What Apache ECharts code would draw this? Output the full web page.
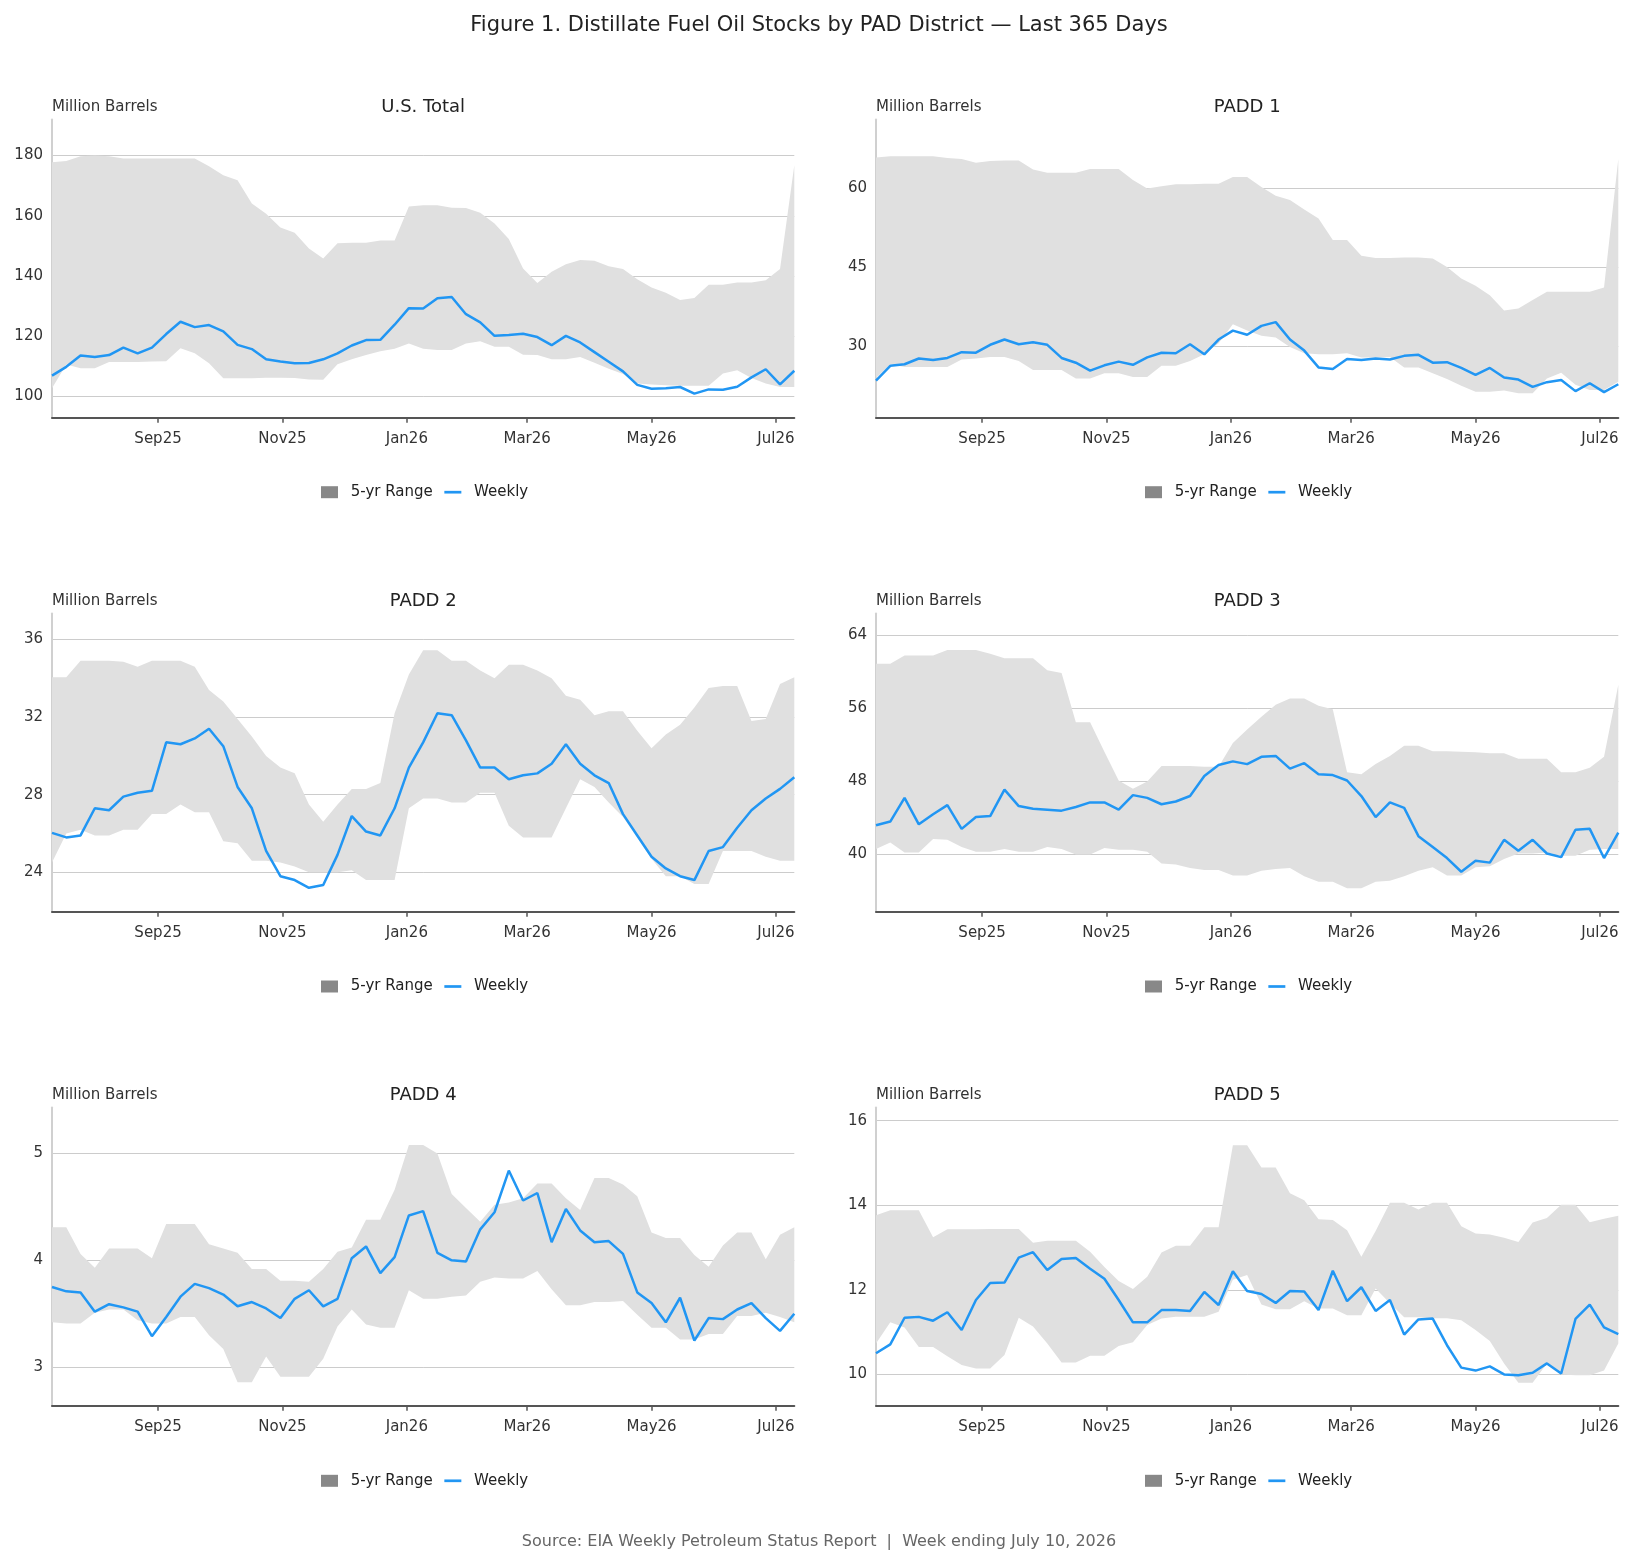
<!DOCTYPE html>
<html>
<head>
<meta charset="utf-8">
<script src="https://cdn.jsdelivr.net/npm/echarts@6/dist/echarts.min.js"></script>
<style>
html,body{margin:0;padding:0;background:#ffffff;}
#chart{width:1634px;height:1564px;}
</style>
</head>
<body>
<div id="chart"></div>
<script>
// ---------- DATA ----------
const weeks = ['2025-07-11','2025-07-18','2025-07-25','2025-08-01','2025-08-08','2025-08-15','2025-08-22','2025-08-29',
  '2025-09-05','2025-09-12','2025-09-19','2025-09-26','2025-10-03','2025-10-10','2025-10-17','2025-10-24','2025-10-31',
  '2025-11-07','2025-11-14','2025-11-21','2025-11-28','2025-12-05','2025-12-12','2025-12-19','2025-12-26',
  '2026-01-02','2026-01-09','2026-01-16','2026-01-23','2026-01-30','2026-02-06','2026-02-13','2026-02-20','2026-02-27',
  '2026-03-06','2026-03-13','2026-03-20','2026-03-27','2026-04-03','2026-04-10','2026-04-17','2026-04-24',
  '2026-05-01','2026-05-08','2026-05-15','2026-05-22','2026-05-29','2026-06-05','2026-06-12','2026-06-19','2026-06-26',
  '2026-07-03','2026-07-10'];

const xTickDates = ['2025-09-01','2025-11-01','2026-01-01','2026-03-01','2026-05-01','2026-07-01'];
const xTickLabels = ['Sep25','Nov25','Jan26','Mar26','May26','Jul26'];

const panelTitles = ['U.S. Total','PADD 1','PADD 2','PADD 3','PADD 4','PADD 5'];

// U.S. Total
const usWeekly = [106.9,109.8,113.6,113.1,113.7,116.2,114.3,116.2,120.7,124.8,123.0,123.7,121.6,117.1,115.7,112.3,111.6,111.0,111.1,112.3,114.3,116.9,118.7,118.8,123.8,129.3,129.2,132.6,133.0,127.3,124.6,120.1,120.4,120.8,119.7,117.0,120.1,117.9,114.7,111.5,108.3,103.8,102.5,102.7,103.1,100.9,102.3,102.2,103.2,106.3,109.0,104.0,108.5];
const usHigh = [177.8,178.2,179.8,180.0,179.8,179.0,179.0,179.0,179.0,179.0,179.0,176.5,173.5,171.8,164.1,160.7,156.1,154.4,149.1,145.8,150.9,151.0,151.0,151.8,151.8,163.1,163.5,163.5,162.7,162.6,161.0,157.4,152.3,142.5,137.7,141.4,143.9,145.3,145.1,143.2,142.3,138.9,136.2,134.4,132.0,132.7,137.1,137.1,137.8,137.8,138.6,142.3,176.8];
const usLow = [102.7,110.6,109.3,109.3,111.4,111.4,111.4,111.6,111.7,116.0,114.3,111.0,106.0,106.0,106.0,106.2,106.2,106.1,105.6,105.5,110.7,112.3,113.7,115.0,115.8,117.6,115.8,115.4,115.4,117.6,118.3,116.5,116.5,113.8,113.7,112.3,112.3,113.1,111.2,109.2,107.4,104.3,103.9,103.7,103.5,103.5,103.5,107.6,108.7,106.1,104.3,103.1,103.1];
const usTicks = [100,120,140,160,180];

// PADD 1
const p1Weekly = [23.5,26.3,26.6,27.7,27.4,27.8,28.9,28.8,30.3,31.3,30.4,30.8,30.3,27.8,26.9,25.4,26.4,27.1,26.5,27.9,28.8,28.7,30.4,28.5,31.3,33.0,32.2,33.9,34.6,31.3,29.2,26.0,25.7,27.6,27.4,27.7,27.5,28.2,28.4,26.9,27.0,25.9,24.6,25.9,24.1,23.7,22.3,23.2,23.6,21.5,23.0,21.3,22.8];
const p1High = [65.9,66.1,66.1,66.1,66.1,65.8,65.6,64.9,65.2,65.3,65.3,63.6,63.0,63.0,63.0,63.7,63.7,63.7,61.6,60.0,60.4,60.8,60.8,60.9,60.9,62.2,62.2,60.3,58.6,57.8,56.0,54.3,50.2,50.2,47.2,46.8,46.8,46.9,46.9,46.7,45.1,42.9,41.5,39.7,36.8,37.2,38.8,40.4,40.4,40.4,40.4,41.2,65.6];
const p1Low = [24.0,26.6,26.1,26.1,26.1,26.1,27.5,27.7,28.0,28.0,27.2,25.5,25.5,25.5,23.9,23.9,24.9,24.9,24.2,24.2,26.3,26.3,27.2,28.5,30.6,34.2,33.0,32.0,31.7,29.9,28.7,28.5,28.5,28.7,27.9,27.9,28.0,26.0,26.0,24.9,23.8,22.5,21.4,21.4,21.6,21.1,21.1,23.9,25.0,22.7,21.7,21.7,23.3];
const p1Ticks = [30,45,60];

// PADD 2
const p2Weekly = [26.03,25.8,25.9,27.3,27.2,27.9,28.1,28.2,30.7,30.6,30.9,31.4,30.5,28.4,27.3,25.1,23.8,23.6,23.2,23.35,24.9,26.9,26.1,25.9,27.3,29.4,30.7,32.2,32.1,30.8,29.4,29.4,28.8,29.0,29.1,29.6,30.6,29.6,29.0,28.6,27.0,25.9,24.8,24.2,23.8,23.6,25.1,25.3,26.3,27.2,27.8,28.3,28.9];
const p2High = [34.06,34.06,34.9,34.9,34.9,34.85,34.6,34.9,34.9,34.9,34.6,33.4,32.8,31.9,31.0,30.0,29.4,29.1,27.5,26.6,27.5,28.3,28.3,28.6,32.2,34.2,35.45,35.45,34.9,34.9,34.4,34.0,34.7,34.7,34.4,34.0,33.1,32.9,32.1,32.3,32.3,31.3,30.4,31.1,31.6,32.5,33.5,33.6,33.6,31.8,31.9,33.7,34.06];
const p2Low = [24.5,26.0,26.2,25.9,25.9,26.2,26.2,27.0,27.0,27.5,27.1,27.1,25.6,25.5,24.6,24.6,24.5,24.3,24.0,24.0,24.0,24.1,23.6,23.6,23.6,27.3,27.8,27.8,27.6,27.6,28.1,28.1,26.4,25.8,25.8,25.8,27.3,28.8,28.4,27.6,26.85,25.8,24.7,23.8,23.8,23.4,23.4,25.1,25.1,25.1,24.8,24.6,24.6];
const p2Ticks = [24,28,32,36];

// PADD 3
const p3Weekly = [43.2,43.6,46.2,43.3,44.4,45.4,42.8,44.1,44.2,47.1,45.3,45.0,44.9,44.8,45.2,45.7,45.7,44.9,46.5,46.2,45.5,45.8,46.4,48.6,49.8,50.2,49.9,50.7,50.8,49.4,50.0,48.8,48.7,48.1,46.4,44.1,45.7,45.1,42.0,40.8,39.6,38.1,39.3,39.1,41.6,40.4,41.6,40.1,39.7,42.7,42.8,39.6,42.4];
const p3High = [60.9,60.9,61.8,61.8,61.8,62.4,62.4,62.4,62.0,61.5,61.5,61.5,60.2,59.9,54.5,54.5,51.25,48.1,47.2,48.0,49.7,49.7,49.7,49.6,49.6,52.2,53.7,55.1,56.4,57.1,57.1,56.3,55.9,49.0,48.8,49.9,50.8,51.9,51.9,51.3,51.3,51.25,51.2,51.1,51.1,50.5,50.5,50.5,49.0,49.0,49.5,50.7,58.6];
const p3Low = [40.6,41.3,40.2,40.2,41.7,41.6,40.8,40.3,40.3,40.6,40.3,40.3,40.8,40.6,40.0,40.0,40.7,40.5,40.5,40.3,39.0,38.9,38.5,38.3,38.3,37.7,37.7,38.2,38.4,38.5,37.6,37.0,37.0,36.3,36.3,37.0,37.1,37.6,38.2,38.6,37.7,37.7,38.6,38.7,39.5,40.1,40.1,40.2,39.85,39.85,40.5,40.6,40.6];
const p3Ticks = [40,48,56,64];

// PADD 4
const p4Weekly = [3.75,3.71,3.70,3.52,3.59,3.56,3.52,3.29,3.47,3.66,3.78,3.74,3.68,3.57,3.61,3.55,3.46,3.64,3.72,3.57,3.64,4.02,4.13,3.88,4.03,4.42,4.46,4.07,4.00,3.99,4.29,4.45,4.84,4.56,4.63,4.17,4.48,4.28,4.17,4.18,4.06,3.70,3.60,3.42,3.65,3.25,3.46,3.45,3.54,3.60,3.46,3.34,3.50];
const p4High = [4.31,4.31,4.06,3.93,4.11,4.11,4.11,4.02,4.34,4.34,4.34,4.15,4.11,4.07,3.92,3.92,3.81,3.81,3.80,3.92,4.08,4.12,4.38,4.38,4.66,5.08,5.08,5.00,4.62,4.49,4.36,4.52,4.54,4.58,4.72,4.72,4.58,4.47,4.77,4.77,4.71,4.60,4.26,4.21,4.21,4.05,3.94,4.14,4.26,4.26,4.01,4.24,4.31];
const p4Low = [3.42,3.41,3.41,3.51,3.54,3.54,3.44,3.41,3.41,3.47,3.47,3.30,3.17,2.86,2.86,3.10,2.91,2.91,2.91,3.08,3.38,3.54,3.40,3.37,3.37,3.72,3.64,3.64,3.66,3.67,3.80,3.84,3.83,3.83,3.90,3.73,3.58,3.58,3.61,3.61,3.62,3.49,3.37,3.37,3.26,3.26,3.31,3.31,3.48,3.48,3.51,3.47,3.42];
const p4Ticks = [3,4,5];

// PADD 5
const p5Weekly = [10.50,10.71,11.34,11.36,11.27,11.47,11.05,11.76,12.16,12.17,12.76,12.89,12.47,12.73,12.75,12.50,12.26,11.76,11.23,11.23,11.52,11.52,11.50,11.95,11.64,12.44,11.97,11.90,11.69,11.97,11.96,11.52,12.45,11.73,12.06,11.50,11.76,10.94,11.30,11.32,10.69,10.16,10.09,10.19,10.00,9.98,10.04,10.26,10.02,11.31,11.65,11.11,10.95];
const p5High = [13.76,13.88,13.88,13.88,13.24,13.43,13.43,13.43,13.44,13.44,13.44,13.11,13.16,13.16,13.16,12.90,12.54,12.21,12.02,12.31,12.88,13.04,13.04,13.48,13.48,15.42,15.42,14.89,14.89,14.28,14.12,13.67,13.65,13.41,12.78,13.39,14.06,14.06,13.90,14.06,14.06,13.50,13.33,13.31,13.23,13.13,13.59,13.70,14.01,14.01,13.60,13.68,13.75];
const p5Low = [10.73,11.23,11.11,10.65,10.65,10.43,10.22,10.14,10.14,10.46,11.34,11.13,10.73,10.28,10.28,10.44,10.44,10.67,10.76,11.17,11.32,11.36,11.36,11.36,11.48,12.24,12.35,11.65,11.54,11.54,11.73,11.56,11.56,11.40,11.40,12.03,11.68,11.35,11.35,11.33,11.33,11.28,11.05,10.79,10.26,9.80,9.80,10.26,10.00,9.98,9.98,10.09,10.73];
const p5Ticks = [10,12,14,16];

// y-axis extents
const yMins = [92.9, 16.45, 21.97, 33.72, 2.64, 9.26];
const yMaxs = [192.0, 73.1, 37.34, 66.41, 5.43, 16.31];

// ---------- BUILD ----------
const FONT = '"DejaVu Sans", sans-serif';
const weeklyAll = [usWeekly, p1Weekly, p2Weekly, p3Weekly, p4Weekly, p5Weekly];
const highAll = [usHigh, p1High, p2High, p3High, p4High, p5High];
const lowAll = [usLow, p1Low, p2Low, p3Low, p4Low, p5Low];
const ticksAll = [usTicks, p1Ticks, p2Ticks, p3Ticks, p4Ticks, p5Ticks];

const t = s => Date.parse(s);
const weekTimes = weeks.map(t);
const xTickTimes = xTickDates.map(t);

const colLeft = [52, 876];
const plotW = 742.3;
const rowTop = [119.5, 613.5, 1107.5];
const plotH = 298.2;
const titleY = [107, 601.5, 1095.5];
const legendCenterY = [492.2, 986.5, 1480.8];
const legendLeft = [321, 1145];

const grids = [], xAxes = [], yAxes = [], series = [], legends = [], graphics = [];

graphics.push({type:'text', x:819, y:25.5, style:{text:'Figure 1. Distillate Fuel Oil Stocks by PAD District \u2014 Last 365 Days', font:'21px ' + FONT, fill:'#222222', align:'center', verticalAlign:'middle'}});
graphics.push({type:'text', x:819, y:1541.5, style:{text:'Source: EIA Weekly Petroleum Status Report  |  Week ending July 10, 2026', font:'16px ' + FONT, fill:'#666666', align:'center', verticalAlign:'middle'}});

function xLabel(v) {
  let best = 0;
  xTickTimes.forEach((tt, j) => { if (Math.abs(tt - v) < Math.abs(xTickTimes[best] - v)) best = j; });
  return xTickLabels[best];
}

function bandRenderer(params, api) {
  if (params.dataIndexInside !== 0) return null;
  const n = params.dataInsideLength;
  const pts = [];
  for (let k = 0; k < n; k++) pts.push(api.coord([api.value(0, k), api.value(2, k)]));
  for (let k = n - 1; k >= 0; k--) pts.push(api.coord([api.value(0, k), api.value(1, k)]));
  return {type: 'polygon', shape: {points: pts}, style: {fill: '#e0e0e0', stroke: null}, silent: true};
}

for (let i = 0; i < 6; i++) {
  const col = i % 2, row = Math.floor(i / 2);
  const left = colLeft[col], top = rowTop[row];
  grids.push({left: left, top: top, width: plotW, height: plotH, containLabel: false});

  xAxes.push({
    type: 'value', gridIndex: i, scale: true,
    min: weekTimes[0], max: weekTimes[weekTimes.length - 1],
    axisLine: {show: true, onZero: false, lineStyle: {color: '#555555', width: 2}},
    axisTick: {show: true, length: 5, lineStyle: {color: '#555555', width: 1.5}, customValues: xTickTimes},
    axisLabel: {customValues: xTickTimes, color: '#333333', fontSize: 15, fontFamily: FONT, margin: 14, hideOverlap: false, formatter: xLabel},
    splitLine: {show: false}
  });

  yAxes.push({
    type: 'value', gridIndex: i, min: yMins[i], max: yMaxs[i],
    axisLine: {show: true, lineStyle: {color: '#d0d0d0', width: 2}},
    axisTick: {show: false, customValues: ticksAll[i]},
    axisLabel: {customValues: ticksAll[i], color: '#333333', fontSize: 15, fontFamily: FONT, margin: 9, padding: [3, 0, 0, 0]},
    splitLine: {show: true, lineStyle: {color: '#cccccc', width: 1}}
  });

  const low = lowAll[i], high = highAll[i], wk = weeklyAll[i];
  series.push({
    type: 'custom', name: '5-yr Range', xAxisIndex: i, yAxisIndex: i,
    data: weekTimes.map((tt, k) => [tt, low[k], high[k]]),
    encode: {x: 0, y: [1, 2]},
    renderItem: bandRenderer, clip: true, silent: true,
    itemStyle: {color: '#888888'}, z: 1
  });
  series.push({
    type: 'line', name: 'Weekly', xAxisIndex: i, yAxisIndex: i,
    data: weekTimes.map((tt, k) => [tt, wk[k]]),
    symbol: 'none', silent: true, lineStyle: {color: '#2196F3', width: 2.5}, itemStyle: {color: '#2196F3'}, z: 3
  });

  legends.push({
    left: legendLeft[col], top: legendCenterY[row] - 7.5, padding: 0,
    itemWidth: 17, itemHeight: 12, itemGap: 11.6, selectedMode: false,
    textStyle: {fontFamily: FONT, fontSize: 15, color: '#222222', padding: [0, 0, 0, 7.7]},
    data: [
      {name: '5-yr Range', icon: 'rect', itemStyle: {color: '#888888', borderWidth: 0}},
      {name: 'Weekly', icon: 'path://M0,0M17,12M0,4.65L17,4.65L17,7.35L0,7.35Z', itemStyle: {color: '#2196F3', borderWidth: 0}}
    ]
  });

  graphics.push({type:'text', x: left + plotW / 2, y: titleY[row], style:{text: panelTitles[i], font:'18px ' + FONT, fill:'#222222', align:'center', verticalAlign:'middle'}});
  graphics.push({type:'text', x: left, y: titleY[row], style:{text: 'Million Barrels', font:'15px ' + FONT, fill:'#333333', align:'left', verticalAlign:'middle'}});
}

const chart = echarts.init(document.getElementById('chart'), null, {renderer: 'canvas', width: 1634, height: 1564});
chart.setOption({
  animation: false,
  backgroundColor: '#ffffff',
  textStyle: {fontFamily: FONT},
  grid: grids,
  xAxis: xAxes,
  yAxis: yAxes,
  legend: legends,
  series: series,
  graphic: graphics
});
</script>
</body>
</html>
